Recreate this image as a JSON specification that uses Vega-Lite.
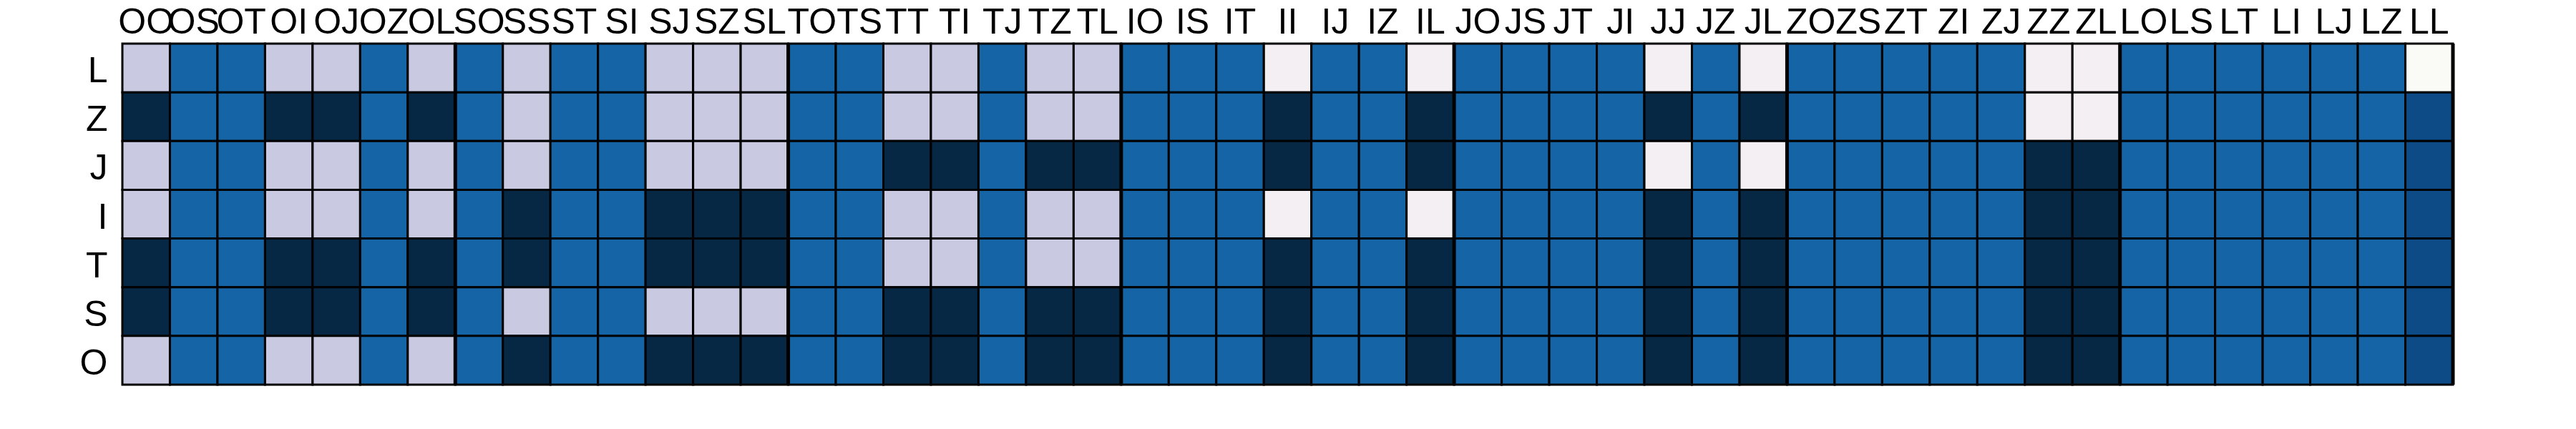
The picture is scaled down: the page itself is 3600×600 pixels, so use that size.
{
  "$schema": "https://vega.github.io/schema/vega-lite/v6.json",
  "autosize": "none",
  "width": 3257,
  "height": 477,
  "padding": {"left": 171, "top": 61, "right": 172, "bottom": 62},
  "background": "#ffffff",
  "config": {"view": {"stroke": null}, "font": "Liberation Sans"},
  "datasets": {
    "cells": [
      {"c":"OO","r":"L","v":0.25},{"c":"OO","r":"Z","v":1},{"c":"OO","r":"J","v":0.25},{"c":"OO","r":"I","v":0.25},{"c":"OO","r":"T","v":1},{"c":"OO","r":"S","v":1},{"c":"OO","r":"O","v":0.25},
      {"c":"OS","r":"L","v":0.75},{"c":"OS","r":"Z","v":0.75},{"c":"OS","r":"J","v":0.75},{"c":"OS","r":"I","v":0.75},{"c":"OS","r":"T","v":0.75},{"c":"OS","r":"S","v":0.75},{"c":"OS","r":"O","v":0.75},
      {"c":"OT","r":"L","v":0.75},{"c":"OT","r":"Z","v":0.75},{"c":"OT","r":"J","v":0.75},{"c":"OT","r":"I","v":0.75},{"c":"OT","r":"T","v":0.75},{"c":"OT","r":"S","v":0.75},{"c":"OT","r":"O","v":0.75},
      {"c":"OI","r":"L","v":0.25},{"c":"OI","r":"Z","v":1},{"c":"OI","r":"J","v":0.25},{"c":"OI","r":"I","v":0.25},{"c":"OI","r":"T","v":1},{"c":"OI","r":"S","v":1},{"c":"OI","r":"O","v":0.25},
      {"c":"OJ","r":"L","v":0.25},{"c":"OJ","r":"Z","v":1},{"c":"OJ","r":"J","v":0.25},{"c":"OJ","r":"I","v":0.25},{"c":"OJ","r":"T","v":1},{"c":"OJ","r":"S","v":1},{"c":"OJ","r":"O","v":0.25},
      {"c":"OZ","r":"L","v":0.75},{"c":"OZ","r":"Z","v":0.75},{"c":"OZ","r":"J","v":0.75},{"c":"OZ","r":"I","v":0.75},{"c":"OZ","r":"T","v":0.75},{"c":"OZ","r":"S","v":0.75},{"c":"OZ","r":"O","v":0.75},
      {"c":"OL","r":"L","v":0.25},{"c":"OL","r":"Z","v":1},{"c":"OL","r":"J","v":0.25},{"c":"OL","r":"I","v":0.25},{"c":"OL","r":"T","v":1},{"c":"OL","r":"S","v":1},{"c":"OL","r":"O","v":0.25},
      {"c":"SO","r":"L","v":0.75},{"c":"SO","r":"Z","v":0.75},{"c":"SO","r":"J","v":0.75},{"c":"SO","r":"I","v":0.75},{"c":"SO","r":"T","v":0.75},{"c":"SO","r":"S","v":0.75},{"c":"SO","r":"O","v":0.75},
      {"c":"SS","r":"L","v":0.25},{"c":"SS","r":"Z","v":0.25},{"c":"SS","r":"J","v":0.25},{"c":"SS","r":"I","v":1},{"c":"SS","r":"T","v":1},{"c":"SS","r":"S","v":0.25},{"c":"SS","r":"O","v":1},
      {"c":"ST","r":"L","v":0.75},{"c":"ST","r":"Z","v":0.75},{"c":"ST","r":"J","v":0.75},{"c":"ST","r":"I","v":0.75},{"c":"ST","r":"T","v":0.75},{"c":"ST","r":"S","v":0.75},{"c":"ST","r":"O","v":0.75},
      {"c":"SI","r":"L","v":0.75},{"c":"SI","r":"Z","v":0.75},{"c":"SI","r":"J","v":0.75},{"c":"SI","r":"I","v":0.75},{"c":"SI","r":"T","v":0.75},{"c":"SI","r":"S","v":0.75},{"c":"SI","r":"O","v":0.75},
      {"c":"SJ","r":"L","v":0.25},{"c":"SJ","r":"Z","v":0.25},{"c":"SJ","r":"J","v":0.25},{"c":"SJ","r":"I","v":1},{"c":"SJ","r":"T","v":1},{"c":"SJ","r":"S","v":0.25},{"c":"SJ","r":"O","v":1},
      {"c":"SZ","r":"L","v":0.25},{"c":"SZ","r":"Z","v":0.25},{"c":"SZ","r":"J","v":0.25},{"c":"SZ","r":"I","v":1},{"c":"SZ","r":"T","v":1},{"c":"SZ","r":"S","v":0.25},{"c":"SZ","r":"O","v":1},
      {"c":"SL","r":"L","v":0.25},{"c":"SL","r":"Z","v":0.25},{"c":"SL","r":"J","v":0.25},{"c":"SL","r":"I","v":1},{"c":"SL","r":"T","v":1},{"c":"SL","r":"S","v":0.25},{"c":"SL","r":"O","v":1},
      {"c":"TO","r":"L","v":0.75},{"c":"TO","r":"Z","v":0.75},{"c":"TO","r":"J","v":0.75},{"c":"TO","r":"I","v":0.75},{"c":"TO","r":"T","v":0.75},{"c":"TO","r":"S","v":0.75},{"c":"TO","r":"O","v":0.75},
      {"c":"TS","r":"L","v":0.75},{"c":"TS","r":"Z","v":0.75},{"c":"TS","r":"J","v":0.75},{"c":"TS","r":"I","v":0.75},{"c":"TS","r":"T","v":0.75},{"c":"TS","r":"S","v":0.75},{"c":"TS","r":"O","v":0.75},
      {"c":"TT","r":"L","v":0.25},{"c":"TT","r":"Z","v":0.25},{"c":"TT","r":"J","v":1},{"c":"TT","r":"I","v":0.25},{"c":"TT","r":"T","v":0.25},{"c":"TT","r":"S","v":1},{"c":"TT","r":"O","v":1},
      {"c":"TI","r":"L","v":0.25},{"c":"TI","r":"Z","v":0.25},{"c":"TI","r":"J","v":1},{"c":"TI","r":"I","v":0.25},{"c":"TI","r":"T","v":0.25},{"c":"TI","r":"S","v":1},{"c":"TI","r":"O","v":1},
      {"c":"TJ","r":"L","v":0.75},{"c":"TJ","r":"Z","v":0.75},{"c":"TJ","r":"J","v":0.75},{"c":"TJ","r":"I","v":0.75},{"c":"TJ","r":"T","v":0.75},{"c":"TJ","r":"S","v":0.75},{"c":"TJ","r":"O","v":0.75},
      {"c":"TZ","r":"L","v":0.25},{"c":"TZ","r":"Z","v":0.25},{"c":"TZ","r":"J","v":1},{"c":"TZ","r":"I","v":0.25},{"c":"TZ","r":"T","v":0.25},{"c":"TZ","r":"S","v":1},{"c":"TZ","r":"O","v":1},
      {"c":"TL","r":"L","v":0.25},{"c":"TL","r":"Z","v":0.25},{"c":"TL","r":"J","v":1},{"c":"TL","r":"I","v":0.25},{"c":"TL","r":"T","v":0.25},{"c":"TL","r":"S","v":1},{"c":"TL","r":"O","v":1},
      {"c":"IO","r":"L","v":0.75},{"c":"IO","r":"Z","v":0.75},{"c":"IO","r":"J","v":0.75},{"c":"IO","r":"I","v":0.75},{"c":"IO","r":"T","v":0.75},{"c":"IO","r":"S","v":0.75},{"c":"IO","r":"O","v":0.75},
      {"c":"IS","r":"L","v":0.75},{"c":"IS","r":"Z","v":0.75},{"c":"IS","r":"J","v":0.75},{"c":"IS","r":"I","v":0.75},{"c":"IS","r":"T","v":0.75},{"c":"IS","r":"S","v":0.75},{"c":"IS","r":"O","v":0.75},
      {"c":"IT","r":"L","v":0.75},{"c":"IT","r":"Z","v":0.75},{"c":"IT","r":"J","v":0.75},{"c":"IT","r":"I","v":0.75},{"c":"IT","r":"T","v":0.75},{"c":"IT","r":"S","v":0.75},{"c":"IT","r":"O","v":0.75},
      {"c":"II","r":"L","v":0.05},{"c":"II","r":"Z","v":1},{"c":"II","r":"J","v":1},{"c":"II","r":"I","v":0.05},{"c":"II","r":"T","v":1},{"c":"II","r":"S","v":1},{"c":"II","r":"O","v":1},
      {"c":"IJ","r":"L","v":0.75},{"c":"IJ","r":"Z","v":0.75},{"c":"IJ","r":"J","v":0.75},{"c":"IJ","r":"I","v":0.75},{"c":"IJ","r":"T","v":0.75},{"c":"IJ","r":"S","v":0.75},{"c":"IJ","r":"O","v":0.75},
      {"c":"IZ","r":"L","v":0.75},{"c":"IZ","r":"Z","v":0.75},{"c":"IZ","r":"J","v":0.75},{"c":"IZ","r":"I","v":0.75},{"c":"IZ","r":"T","v":0.75},{"c":"IZ","r":"S","v":0.75},{"c":"IZ","r":"O","v":0.75},
      {"c":"IL","r":"L","v":0.05},{"c":"IL","r":"Z","v":1},{"c":"IL","r":"J","v":1},{"c":"IL","r":"I","v":0.05},{"c":"IL","r":"T","v":1},{"c":"IL","r":"S","v":1},{"c":"IL","r":"O","v":1},
      {"c":"JO","r":"L","v":0.75},{"c":"JO","r":"Z","v":0.75},{"c":"JO","r":"J","v":0.75},{"c":"JO","r":"I","v":0.75},{"c":"JO","r":"T","v":0.75},{"c":"JO","r":"S","v":0.75},{"c":"JO","r":"O","v":0.75},
      {"c":"JS","r":"L","v":0.75},{"c":"JS","r":"Z","v":0.75},{"c":"JS","r":"J","v":0.75},{"c":"JS","r":"I","v":0.75},{"c":"JS","r":"T","v":0.75},{"c":"JS","r":"S","v":0.75},{"c":"JS","r":"O","v":0.75},
      {"c":"JT","r":"L","v":0.75},{"c":"JT","r":"Z","v":0.75},{"c":"JT","r":"J","v":0.75},{"c":"JT","r":"I","v":0.75},{"c":"JT","r":"T","v":0.75},{"c":"JT","r":"S","v":0.75},{"c":"JT","r":"O","v":0.75},
      {"c":"JI","r":"L","v":0.75},{"c":"JI","r":"Z","v":0.75},{"c":"JI","r":"J","v":0.75},{"c":"JI","r":"I","v":0.75},{"c":"JI","r":"T","v":0.75},{"c":"JI","r":"S","v":0.75},{"c":"JI","r":"O","v":0.75},
      {"c":"JJ","r":"L","v":0.05},{"c":"JJ","r":"Z","v":1},{"c":"JJ","r":"J","v":0.05},{"c":"JJ","r":"I","v":1},{"c":"JJ","r":"T","v":1},{"c":"JJ","r":"S","v":1},{"c":"JJ","r":"O","v":1},
      {"c":"JZ","r":"L","v":0.75},{"c":"JZ","r":"Z","v":0.75},{"c":"JZ","r":"J","v":0.75},{"c":"JZ","r":"I","v":0.75},{"c":"JZ","r":"T","v":0.75},{"c":"JZ","r":"S","v":0.75},{"c":"JZ","r":"O","v":0.75},
      {"c":"JL","r":"L","v":0.05},{"c":"JL","r":"Z","v":1},{"c":"JL","r":"J","v":0.05},{"c":"JL","r":"I","v":1},{"c":"JL","r":"T","v":1},{"c":"JL","r":"S","v":1},{"c":"JL","r":"O","v":1},
      {"c":"ZO","r":"L","v":0.75},{"c":"ZO","r":"Z","v":0.75},{"c":"ZO","r":"J","v":0.75},{"c":"ZO","r":"I","v":0.75},{"c":"ZO","r":"T","v":0.75},{"c":"ZO","r":"S","v":0.75},{"c":"ZO","r":"O","v":0.75},
      {"c":"ZS","r":"L","v":0.75},{"c":"ZS","r":"Z","v":0.75},{"c":"ZS","r":"J","v":0.75},{"c":"ZS","r":"I","v":0.75},{"c":"ZS","r":"T","v":0.75},{"c":"ZS","r":"S","v":0.75},{"c":"ZS","r":"O","v":0.75},
      {"c":"ZT","r":"L","v":0.75},{"c":"ZT","r":"Z","v":0.75},{"c":"ZT","r":"J","v":0.75},{"c":"ZT","r":"I","v":0.75},{"c":"ZT","r":"T","v":0.75},{"c":"ZT","r":"S","v":0.75},{"c":"ZT","r":"O","v":0.75},
      {"c":"ZI","r":"L","v":0.75},{"c":"ZI","r":"Z","v":0.75},{"c":"ZI","r":"J","v":0.75},{"c":"ZI","r":"I","v":0.75},{"c":"ZI","r":"T","v":0.75},{"c":"ZI","r":"S","v":0.75},{"c":"ZI","r":"O","v":0.75},
      {"c":"ZJ","r":"L","v":0.75},{"c":"ZJ","r":"Z","v":0.75},{"c":"ZJ","r":"J","v":0.75},{"c":"ZJ","r":"I","v":0.75},{"c":"ZJ","r":"T","v":0.75},{"c":"ZJ","r":"S","v":0.75},{"c":"ZJ","r":"O","v":0.75},
      {"c":"ZZ","r":"L","v":0.05},{"c":"ZZ","r":"Z","v":0.05},{"c":"ZZ","r":"J","v":1},{"c":"ZZ","r":"I","v":1},{"c":"ZZ","r":"T","v":1},{"c":"ZZ","r":"S","v":1},{"c":"ZZ","r":"O","v":1},
      {"c":"ZL","r":"L","v":0.05},{"c":"ZL","r":"Z","v":0.05},{"c":"ZL","r":"J","v":1},{"c":"ZL","r":"I","v":1},{"c":"ZL","r":"T","v":1},{"c":"ZL","r":"S","v":1},{"c":"ZL","r":"O","v":1},
      {"c":"LO","r":"L","v":0.75},{"c":"LO","r":"Z","v":0.75},{"c":"LO","r":"J","v":0.75},{"c":"LO","r":"I","v":0.75},{"c":"LO","r":"T","v":0.75},{"c":"LO","r":"S","v":0.75},{"c":"LO","r":"O","v":0.75},
      {"c":"LS","r":"L","v":0.75},{"c":"LS","r":"Z","v":0.75},{"c":"LS","r":"J","v":0.75},{"c":"LS","r":"I","v":0.75},{"c":"LS","r":"T","v":0.75},{"c":"LS","r":"S","v":0.75},{"c":"LS","r":"O","v":0.75},
      {"c":"LT","r":"L","v":0.75},{"c":"LT","r":"Z","v":0.75},{"c":"LT","r":"J","v":0.75},{"c":"LT","r":"I","v":0.75},{"c":"LT","r":"T","v":0.75},{"c":"LT","r":"S","v":0.75},{"c":"LT","r":"O","v":0.75},
      {"c":"LI","r":"L","v":0.75},{"c":"LI","r":"Z","v":0.75},{"c":"LI","r":"J","v":0.75},{"c":"LI","r":"I","v":0.75},{"c":"LI","r":"T","v":0.75},{"c":"LI","r":"S","v":0.75},{"c":"LI","r":"O","v":0.75},
      {"c":"LJ","r":"L","v":0.75},{"c":"LJ","r":"Z","v":0.75},{"c":"LJ","r":"J","v":0.75},{"c":"LJ","r":"I","v":0.75},{"c":"LJ","r":"T","v":0.75},{"c":"LJ","r":"S","v":0.75},{"c":"LJ","r":"O","v":0.75},
      {"c":"LZ","r":"L","v":0.75},{"c":"LZ","r":"Z","v":0.75},{"c":"LZ","r":"J","v":0.75},{"c":"LZ","r":"I","v":0.75},{"c":"LZ","r":"T","v":0.75},{"c":"LZ","r":"S","v":0.75},{"c":"LZ","r":"O","v":0.75},
      {"c":"LL","r":"L","v":0},{"c":"LL","r":"Z","v":0.85},{"c":"LL","r":"J","v":0.85},{"c":"LL","r":"I","v":0.85},{"c":"LL","r":"T","v":0.85},{"c":"LL","r":"S","v":0.85},{"c":"LL","r":"O","v":0.85}
    ],
    "seps": [
      {"c":"OL"},{"c":"SL"},{"c":"TL"},{"c":"IL"},{"c":"JL"},{"c":"ZL"},{"c":"LL"}
    ]
  },
  "layer": [
    {
      "data": {"name": "cells"},
      "mark": {"type": "rect", "stroke": "#000000", "strokeWidth": 3},
      "encoding": {
        "x": {
          "field": "c", "type": "nominal",
          "sort": ["OO","OS","OT","OI","OJ","OZ","OL","SO","SS","ST","SI","SJ","SZ","SL","TO","TS","TT","TI","TJ","TZ","TL","IO","IS","IT","II","IJ","IZ","IL","JO","JS","JT","JI","JJ","JZ","JL","ZO","ZS","ZT","ZI","ZJ","ZZ","ZL","LO","LS","LT","LI","LJ","LZ","LL"],
          "scale": {"paddingInner": 0, "paddingOuter": 0},
          "axis": {"orient": "top", "title": null, "labelAngle": 0, "labelFontSize": 50, "labelFont": "Liberation Sans", "labelColor": "#000000", "ticks": false, "domain": false, "labelPadding": 15, "labelBaseline": "alphabetic", "labelOverlap": false, "labelBound": false, "labelFlush": false}
        },
        "y": {
          "field": "r", "type": "nominal",
          "sort": ["L","Z","J","I","T","S","O"],
          "scale": {"paddingInner": 0, "paddingOuter": 0},
          "axis": {"title": null, "labelFontSize": 50, "labelFont": "Liberation Sans", "labelColor": "#000000", "ticks": false, "domain": false, "labelPadding": 21, "labelBaseline": "alphabetic", "labelOffset": 20, "labelOverlap": false}
        },
        "color": {
          "field": "v", "type": "quantitative",
          "scale": {"domain": [0, 0.05, 0.25, 0.75, 0.85, 1], "range": ["#fafbf6", "#f3eff3", "#c9c9e1", "#1565a6", "#0c4b85", "#072845"]},
          "legend": null
        }
      }
    },
    {
      "data": {"name": "seps"},
      "mark": {"type": "rule", "color": "#000000", "strokeWidth": 5},
      "encoding": {
        "x": {"field": "c", "type": "nominal", "bandPosition": 1,
          "sort": ["OO","OS","OT","OI","OJ","OZ","OL","SO","SS","ST","SI","SJ","SZ","SL","TO","TS","TT","TI","TJ","TZ","TL","IO","IS","IT","II","IJ","IZ","IL","JO","JS","JT","JI","JJ","JZ","JL","ZO","ZS","ZT","ZI","ZJ","ZZ","ZL","LO","LS","LT","LI","LJ","LZ","LL"]}
      }
    }
  ]
}
